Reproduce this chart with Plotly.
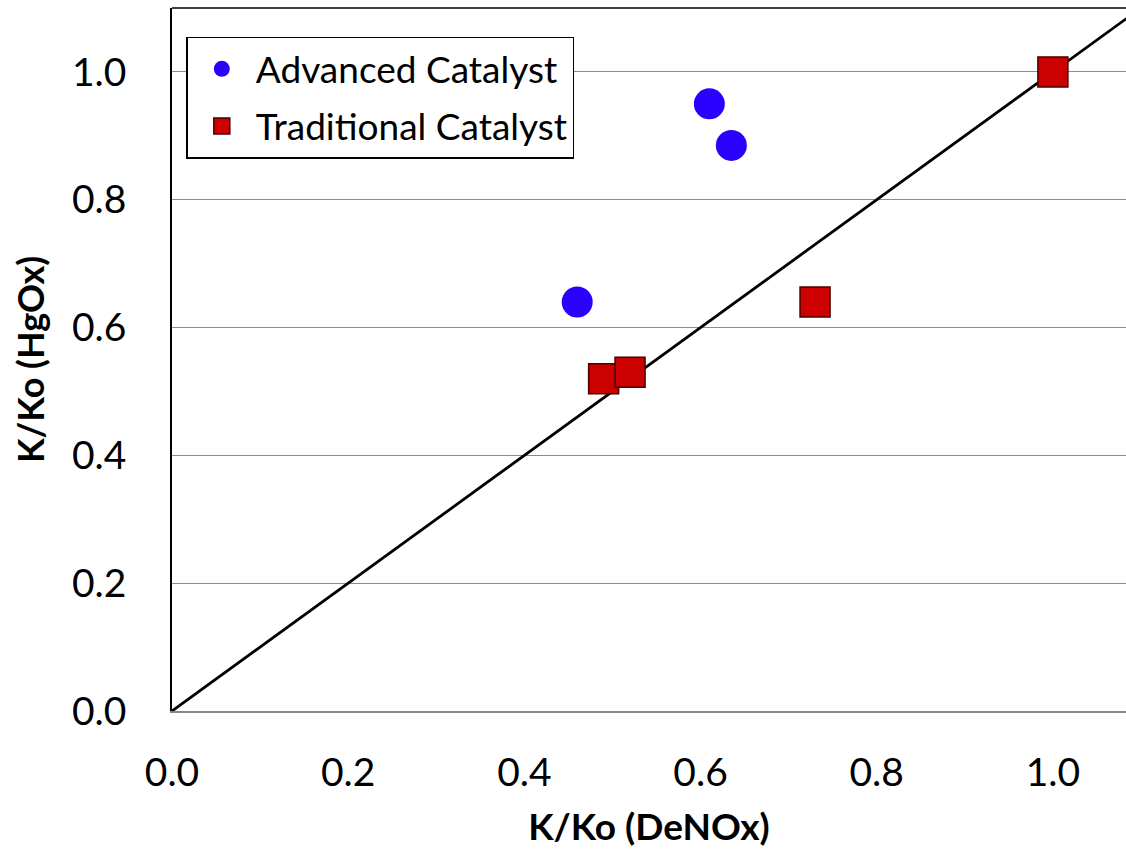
import plotly.graph_objects as go

# data
adv_x = [0.61, 0.635, 0.46]
adv_y = [0.95, 0.885, 0.64]
trad_x = [1.0, 0.73, 0.49, 0.52]
trad_y = [1.0, 0.64, 0.52, 0.53]
parity = [0.0, 1.1]
tick_vals = [0.0, 0.2, 0.4, 0.6, 0.8, 1.0]
tick_text = ["0.0", "0.2", "0.4", "0.6", "0.8", "1.0"]

FONT = "Lato, Open Sans, sans-serif"

fig = go.Figure()

fig.add_trace(go.Scatter(
    x=parity, y=parity, mode="lines",
    line=dict(color="black", width=2.8),
    showlegend=False, hoverinfo="skip",
))
fig.add_trace(go.Scatter(
    x=adv_x, y=adv_y, mode="markers", name="Advanced Catalyst",
    legendgroup="adv",
    marker=dict(symbol="circle", size=31, color="#2a00ff",
                line=dict(color="#2a00ff", width=0)),
))
fig.add_trace(go.Scatter(
    x=trad_x, y=trad_y, mode="markers", name="Traditional Catalyst",
    legendgroup="trad",
    marker=dict(symbol="square", size=30, color="#cc0000",
                line=dict(color="#4a0000", width=1.5)),
))

fig.update_layout(
    width=1126, height=857,
    paper_bgcolor="white", plot_bgcolor="white",
    margin=dict(l=172, r=0, t=8, b=146),
    font=dict(family=FONT, color="black", size=38),
    xaxis=dict(
        range=[0, 1.083], tickvals=tick_vals, ticktext=tick_text,
        showgrid=False, zeroline=False,
        showline=True, linecolor="#888888", linewidth=1.5,
        ticks="", ticklabelstandoff=26,
        tickfont=dict(size=39, family=FONT),
        title=dict(text="<b>K/Ko (DeNOx)</b>", font=dict(size=37, family=FONT), standoff=22),
    ),
    yaxis=dict(
        range=[0, 1.1], tickvals=tick_vals, ticktext=tick_text,
        showgrid=True, gridcolor="#8c8c8c", gridwidth=1,
        zeroline=False,
        showline=True, linecolor="black", linewidth=1.5,
        ticks="", ticklabelstandoff=36,
        tickfont=dict(size=39, family=FONT),
        title=dict(text="<b>K/Ko (HgOx)</b>", font=dict(size=36, family=FONT), standoff=16),
    ),
    legend=dict(
        x=0.015, y=0.959, xanchor="left", yanchor="top",
        bgcolor="white", bordercolor="black", borderwidth=1.5,
        font=dict(size=37, family=FONT), itemwidth=58,
        tracegroupgap=6,
    ),
    shapes=[dict(type="line", xref="paper", yref="paper", x0=0, x1=1, y0=1, y1=1,
                 line=dict(color="black", width=1.5))],
)

fig.write_html(
    "out.html",
    config={"displayModeBar": False},
    post_script="document.body.style.margin='0';document.body.style.overflow='hidden';",
)
